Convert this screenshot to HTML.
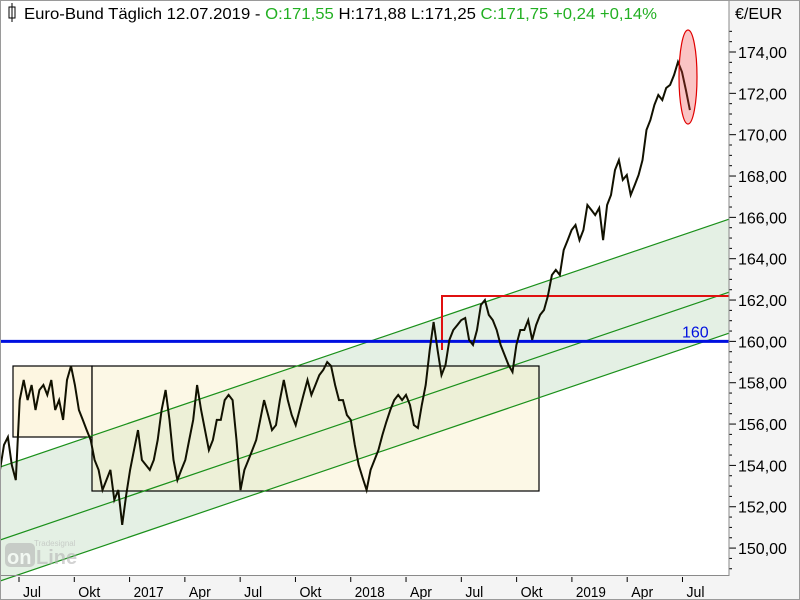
<!DOCTYPE html>
<html><head><meta charset="utf-8"><style>
body{margin:0;background:#fff}
svg{display:block;font-family:"Liberation Sans",sans-serif}
</style></head><body>
<svg id="chart" width="800" height="600" viewBox="0 0 800 600" xmlns="http://www.w3.org/2000/svg">
<rect x="0" y="0" width="800" height="600" fill="#f4f4f4"/>
<rect x="0" y="0" width="729" height="575" fill="#ffffff"/>
<g id="bands"></g>
<g id="marks"></g>
<g id="axes"></g>
<rect x="0.5" y="0.5" width="728.5" height="575" fill="none" stroke="#8a8a8a" stroke-width="1"/>
<rect x="0.5" y="0.5" width="799" height="599" fill="none" stroke="#9a9a9a"/>
<g font-size="16">
<rect x="9" y="7" width="6" height="11" fill="none" stroke="#000"/>
<line x1="12" y1="3" x2="12" y2="22" stroke="#000"/>
<text x="24" y="19" textLength="633" lengthAdjust="spacingAndGlyphs"><tspan fill="#000">Euro-Bund Täglich   12.07.2019 - </tspan><tspan fill="#22b022">O:171,55</tspan><tspan fill="#000"> H:171,88 L:171,25 </tspan><tspan fill="#22b022">C:171,75 +0,24 +0,14%</tspan></text>
</g>
<text x="735" y="19" font-size="16" fill="#000">€/EUR</text>
<g opacity="0.55">
<rect x="5" y="543" width="30" height="24" rx="5" fill="#b0b0b0"/>
<text x="7" y="564" font-size="20" font-weight="bold" fill="#fff">on</text>
<text x="36" y="564" font-size="20" font-weight="bold" fill="#b0b0b0">Line</text>
<text x="34" y="546" font-size="8" fill="#b0b0b0">Tradesignal</text>
</g>
</svg>
<script>
const priceTicks=[150,152,154,156,158,160,162,164,166,168,170,172,174];
const timeTickLabels=["Jul","Okt","2017","Apr","Jul","Okt","2018","Apr","Jul","Okt","2019","Apr","Jul"];
const timeTickMonths=[6,9,12,15,18,21,24,27,30,33,36,39,42];
const closes=[153.78,154.99,155.37,154.02,153.29,157.16,158.13,157.16,157.89,156.68,157.65,157.89,157.41,158.13,156.68,157.16,156.20,158.13,158.81,157.89,156.68,156.20,155.71,155.23,154.26,153.78,152.81,153.29,153.78,152.33,152.81,151.12,152.57,153.78,154.74,155.71,154.26,154.02,153.78,154.26,155.23,156.68,157.65,156.20,154.26,153.29,153.78,154.26,155.23,156.20,157.89,156.68,155.71,154.74,155.23,156.20,156.20,157.16,157.41,157.16,155.23,152.81,153.78,154.26,154.74,155.23,156.20,157.16,156.44,155.71,155.95,157.16,158.13,157.16,156.44,155.95,156.68,157.41,158.13,157.41,157.89,158.37,158.62,159.00,158.81,157.89,157.16,157.16,156.44,156.20,154.99,154.02,153.39,152.81,153.78,154.26,154.74,155.47,156.10,156.68,157.16,157.41,157.16,157.41,156.92,155.95,155.81,156.92,157.89,159.58,160.94,159.58,158.37,158.86,160.07,160.55,160.79,161.03,161.13,160.07,159.83,160.55,161.76,162.00,161.28,161.03,160.55,159.83,159.34,158.86,158.52,159.83,160.55,160.55,161.03,160.07,160.79,161.28,161.52,162.20,163.21,163.46,163.21,164.42,164.90,165.39,165.63,164.90,165.39,166.60,166.36,166.11,166.46,164.90,166.60,167.08,168.29,168.77,167.81,168.05,167.08,167.56,168.05,168.77,170.23,170.71,171.44,171.92,171.68,172.26,172.41,172.89,173.52,173.03,172.16,171.19];
const startMonth=4.97, endMonth=42.4;
const NS="http://www.w3.org/2000/svg";
function yS(p){return 52+(174-p)*20.67;}
function xM(m){return 19+(m-6)*18.43;}
function xI(i){return xM(startMonth+(endMonth-startMonth)*i/(closes.length-1));}
function mk(tag,attrs,parent){const e=document.createElementNS(NS,tag);for(const k in attrs)e.setAttribute(k,attrs[k]);parent.appendChild(e);return e;}
const bands=document.getElementById('bands'),marks=document.getElementById('marks'),axes=document.getElementById('axes');
const slope=-0.34;
let ch=mk('polygon',{points:`0,467 729,${467+729*slope} 729,${581+729*slope} 0,581`,fill:'#e4f0e4'},bands);


let b1=mk('rect',{x:13,y:366,width:79,height:71,fill:'#fdf5dc','fill-opacity':0.85,stroke:'#000','stroke-width':1.2},bands);


let b2=mk('rect',{x:92,y:366,width:447,height:125,fill:'#f8efc8','fill-opacity':0.45,stroke:'#000','stroke-width':1.2},bands);


[[467,'channel-upper-line'],[540,'channel-middle-line'],[581,'channel-lower-line']].forEach(([y0,n])=>{
 const l=mk('line',{x1:0,y1:y0,x2:729,y2:y0+729*slope,stroke:'#1a901a','stroke-width':1.2},bands);
 
 
});
let r=mk('polyline',{points:'442,350 442,296 729,296',fill:'none',stroke:'#e01010','stroke-width':2},bands);


let bl=mk('line',{x1:0,y1:yS(160),x2:729,y2:yS(160),stroke:'#0010e0','stroke-width':3},bands);


let bt=mk('text',{x:682,y:yS(160)-4,'font-size':16,fill:'#0010e0'},bands);bt.textContent='160';


let pts=closes.map((c,i)=>xI(i).toFixed(1)+','+yS(c).toFixed(1)).join(' ');
let pl=mk('polyline',{points:pts,fill:'none',stroke:'#111100','stroke-width':2,'stroke-linejoin':'miter'},marks);


let el=mk('ellipse',{cx:688,cy:77,rx:9,ry:47,fill:'rgba(240,60,60,0.3)',stroke:'#e00000','stroke-width':1.2},marks);


for(let p=149;p<=175;p+=0.5){const y=yS(p);if(y<25||y>573)continue;
 const t=mk('line',{x1:729,y1:y,x2:(p%2===0)?736:732,y2:y,stroke:'#000'},axes);
 
 }
priceTicks.forEach(p=>{const t=mk('text',{x:738,y:yS(p)+6,'font-size':16,fill:'#000'},axes);
 t.textContent=p.toFixed(2).replace('.',',');
 
 });
timeTickLabels.forEach((lab,i)=>{const x=xM(timeTickMonths[i]);
 const t=mk('line',{x1:x,y1:577,x2:x,y2:582,stroke:'#000'},axes);
 
 
 const tx=mk('text',{x:x+4,y:597,'font-size':15,fill:'#000',textLength:lab.length>3?30:(lab==='Jul'?18:22),lengthAdjust:'spacingAndGlyphs'},axes);
 tx.textContent=lab;
 
 });
</script>
</body></html>
